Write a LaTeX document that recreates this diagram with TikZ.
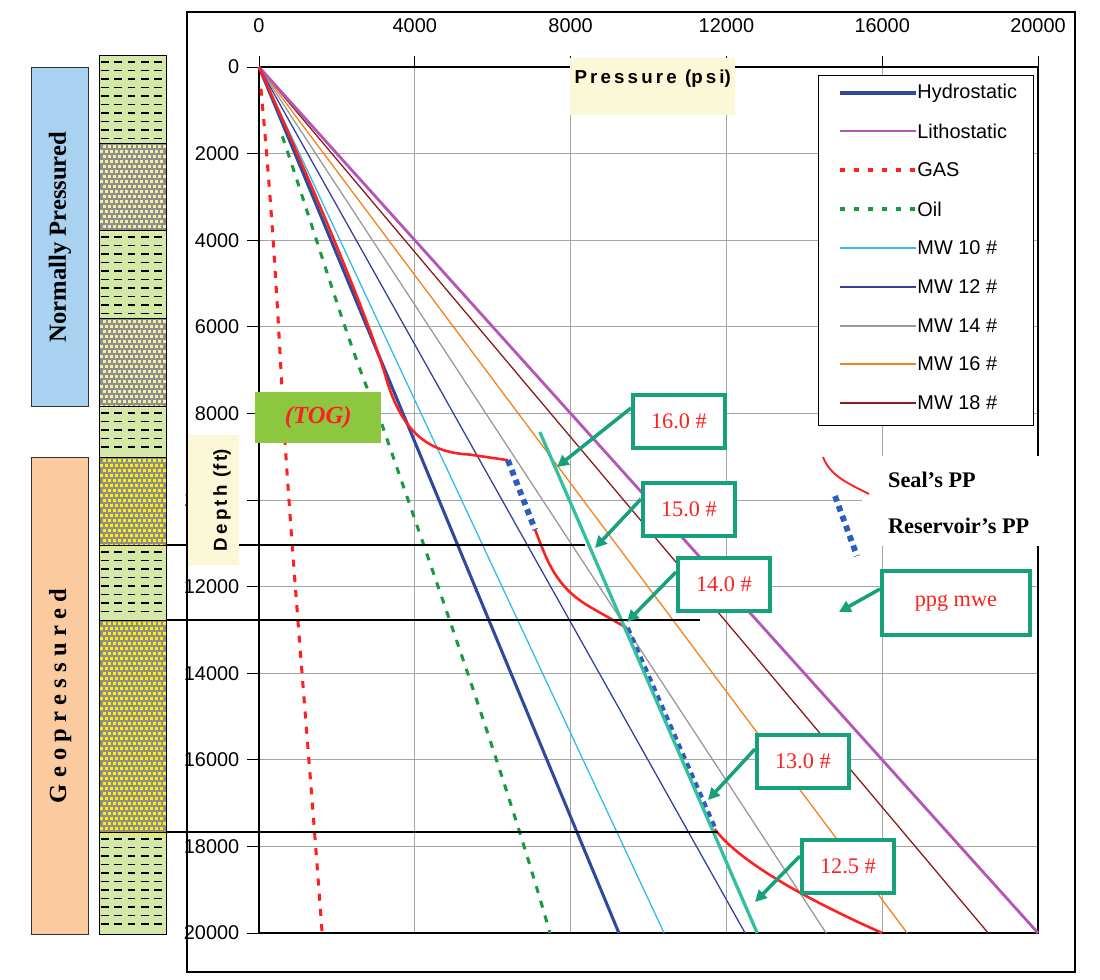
\documentclass[tikz,border=0pt]{standalone}
\usepackage{fontspec}
\setmainfont{Liberation Serif}
\setsansfont{Liberation Sans}
\usetikzlibrary{arrows.meta}
\definecolor{hydro}{HTML}{2E4A9E}
\definecolor{litho}{HTML}{B455B8}
\definecolor{gasc}{HTML}{FF2020}
\definecolor{oilc}{HTML}{1A9A40}
\definecolor{mwa}{HTML}{33BBEE}
\definecolor{mwb}{HTML}{3340A0}
\definecolor{mwc}{HTML}{999999}
\definecolor{mwd}{HTML}{F58220}
\definecolor{mwe}{HTML}{8B1A1A}
\definecolor{tealb}{HTML}{17A07C}
\definecolor{teall}{HTML}{33C0A0}
\definecolor{shale}{HTML}{D5E8A8}
\definecolor{sandg}{HTML}{8E8E8E}
\definecolor{blueb}{HTML}{A9D1F0}
\definecolor{peach}{HTML}{FBCB9F}
\definecolor{cream}{HTML}{FBF8D8}
\definecolor{togg}{HTML}{8DC63F}
\definecolor{resb}{HTML}{2E5BBF}
\definecolor{paley}{HTML}{F2F0A0}
\tikzset{
  tick/.style={font=\sffamily\fontsize{17}{19}\selectfont},
  legtxt/.style={font=\sffamily\fontsize{17}{19}\selectfont, anchor=west, inner sep=1pt},
  callout/.style={draw=tealb, line width=3.2pt, fill=white, text=gasc, font=\fontsize{19}{21}\selectfont, minimum width=92*0.3mm, minimum height=53*0.3mm, inner sep=0pt},
  callarrow/.style={tealb, line width=3pt, -{Triangle[length=10pt,width=10pt]}},
  gridl/.style={gray!70, line width=0.8pt},
  shalebox/.style={fill=shale, draw=black, line width=0.8pt},
  sandbox/.style={draw=black, line width=0.8pt},
  hydroL/.style={hydro, line width=2.6pt},
  lithoL/.style={litho, line width=2.4pt},
  gasL/.style={gasc, line width=2.6pt, dash pattern=on 4pt off 8pt},
  oilL/.style={oilc, line width=2.6pt, dash pattern=on 4pt off 8pt},
  mwaL/.style={mwa, line width=1.1pt},
  mwbL/.style={mwb, line width=1.1pt},
  mwcL/.style={mwc, line width=1.1pt},
  mwdL/.style={mwd, line width=1.1pt},
  mweL/.style={mwe, line width=1.1pt},
  resL/.style={resb, line width=5pt, dash pattern=on 5pt off 4pt},
  sealL/.style={gasc, line width=2.2pt},
}
\begin{document}
\begin{tikzpicture}[x=0.3mm,y=-0.3mm]
\useasboundingbox (0,0) rectangle (1100,980);
\fill[white] (0,0) rectangle (1100,980);
% outer chart frame
\draw[line width=1.2pt] (187,12) rectangle (1075,972);
% left columns
\node[draw=black!80, line width=1pt, fill=blueb, minimum width=57*0.3mm, minimum height=339*0.3mm, inner sep=0pt, anchor=north west] (np) at (31,67) {};
\node[rotate=90, font=\bfseries\fontsize{21}{23}\selectfont] at (np.center) {Normally Pressured};
\node[draw=black!80, line width=1pt, fill=peach, minimum width=57*0.3mm, minimum height=477*0.3mm, inner sep=0pt, anchor=north west] (gp) at (31,457) {};
\node[rotate=90, font=\bfseries\fontsize{21}{23}\selectfont] at (gp.center) {G e o p r e s s u r e d};
% lithology column
\foreach \a/\b in {55/143, 230/318, 406/457, 545/620, 832/934}{
  \draw[shalebox] (99,\a) rectangle (166,\b);
  \pgfmathsetmacro{\st}{\a+7}
  \pgfmathsetmacro{\nx}{\a+15.5}
  \foreach \yy in {\st,\nx,...,\b}{
    \pgfmathparse{\yy<\b-3?1:0}
    \ifnum\pgfmathresult=1
      \draw[black, line width=1.3pt, dash pattern=on 2.3mm off 1.7mm] (101,\yy) -- (165,\yy);
    \fi
  }
}
\foreach \a/\b/\c in {143/230/paley, 318/406/paley, 457/545/yellow, 620/832/yellow}{
  \fill[sandg] (99,\a) rectangle (166,\b);
  \pgfmathsetmacro{\st}{\a+2}
  \pgfmathsetmacro{\nx}{\a+7}
  \foreach \yy [count=\i] in {\st,\nx,...,\b}{
    \pgfmathsetmacro{\off}{mod(\i,2)*2.5}
    \foreach \xx in {100,105,...,162}{
      \fill[\c] (\xx+\off,\yy) rectangle ++(3,3);
    }
  }
  \draw[sandbox] (99,\a) rectangle (166,\b);
}
% plot
\begin{scope}[shift={(77.7mm,-20.1mm)}, x=11.685mm, y=-12.99mm]
  \foreach \d in {2,4,...,18} \draw[gridl] (0,\d) -- (20,\d);
  \foreach \p in {4,8,...,16} \draw[gridl] (\p,0) -- (\p,20);
  \draw[line width=1pt] (0,0) -- (20,0) -- (20,20) -- (0,20) -- (0,0);
  \foreach \p/\lab in {0/0,4/4000,8/8000,12/12000,16/16000,20/20000} {
    \draw[line width=0.8pt] (\p,0) -- (\p,-0.25);
    \node[tick] at (\p,-0.95) {\lab};
  }
  \foreach \d/\lab in {0/0,2/2000,4/4000,6/6000,8/8000,10/10000,12/12000,14/14000,16/16000,18/18000,20/20000} {
    \draw[line width=0.8pt] (0,\d) -- (-0.3,\d);
    \node[tick, anchor=east] at (-0.4,\d) {\lab};
  }
  % curves
  \draw[mweL] (0,0) -- (18.72,20);
  \draw[mwdL] (0,0) -- (16.64,20);
  \draw[mwcL] (0,0) -- (14.56,20);
  \draw[mwbL] (0,0) -- (12.48,20);
  \draw[mwaL] (0,0) -- (10.4,20);
  \draw[lithoL] (0,0) -- (20,20);
  \draw[hydroL] (0,0) -- (9.24,20);
  \draw[gasL, dash pattern=on 6pt off 7pt] (0.05,0.5) .. controls (0.2,2) and (0.4,4) .. (0.62,8) .. controls (0.9,12) and (1.3,16) .. (1.62,20);
  \draw[oilL, dash pattern=on 6pt off 7pt] (0.6,1.6) .. controls (1.5,4) and (2.5,7) .. (3.06,8) .. controls (4.2,11) and (6.2,16) .. (7.47,20);
  % seal and reservoir PP
  \draw[sealL] (0,0) .. controls (1.5,3) and (2.9,6) .. (3.3,7.3) .. controls (3.7,8.4) and (4.3,8.9) .. (5.4,8.95) -- (6.39,9.08);
  \draw[resL] (6.39,9.08) -- (7.09,10.69);
  \draw[sealL] (7.09,10.69) .. controls (7.4,11.4) and (7.6,12.0) .. (8.5,12.47) -- (9.45,12.96);
  \draw[resL] (9.45,12.96) -- (11.7,17.6);
  \draw[sealL] (11.7,17.6) .. controls (12.2,18.2) and (13.5,19.0) .. (16,20);
  \draw[teall, line width=2.8pt] (7.21,8.43) -- (12.79,20);
\end{scope}
% horizontal boundary lines
\draw[black, line width=1pt] (166,545) -- (585,545);
\draw[black, line width=1pt] (166,620) -- (700,620);
\draw[black, line width=1pt] (166,832) -- (718,832);
% axis title boxes
\node[fill=cream, minimum width=165*0.3mm, minimum height=57*0.3mm, inner sep=0pt, anchor=north west] (pt) at (570,58) {};
\node[font=\sffamily\bfseries\fontsize{16}{18}\selectfont, anchor=north] at (pt.north) [yshift=-7pt] {P\,r\,e\,s\,s\,u\,r\,e \,(p\,s\,i)};
\node[fill=cream, minimum width=51*0.3mm, minimum height=130*0.3mm, inner sep=0pt, anchor=north west] (dt) at (188,435) {};
\node[rotate=90, font=\sffamily\bfseries\fontsize{16}{18}\selectfont] at (222,500) {D\,e\,p\,t\,h\, (f\,t)};
% TOG
\node[fill=togg, minimum width=126*0.3mm, minimum height=51*0.3mm, inner sep=0pt, anchor=north west] (tog) at (255,392) {};
\node[text=gasc, font=\bfseries\itshape\fontsize{21}{23}\selectfont] at (tog.center) {(TOG)};
% legend
\node[draw=black, line width=1pt, fill=white, minimum width=215*0.3mm, minimum height=350*0.3mm, inner sep=0pt, anchor=north west] (leg) at (818,75) {};
\foreach \y/\sty/\txt in {
  93/hydroL/Hydrostatic,
  131/lithoL/Lithostatic,
  170/gasL/GAS,
  209/oilL/Oil,
  248/mwaL/MW 10 \#,
  287/mwbL/MW 12 \#,
  326/mwcL/MW 14 \#,
  364/mwdL/MW 16 \#,
  403/mweL/MW 18 \#}{
  \draw[\sty] (840,\y) -- (916,\y);
  \node[legtxt] at (916,\y) {\txt};
}
% seal / reservoir legend
\fill[white] (862,456) rectangle (1045,546);
\draw[sealL, line width=1.6pt] (823,457) .. controls (830,475) and (845,482) .. (869,494);
\draw[resL] (835,496) -- (857,556);
\node[font=\bfseries\fontsize{19}{21}\selectfont, anchor=west] (seal) at (884,480) {Seal's PP};
\node[font=\bfseries\fontsize{19}{21}\selectfont, anchor=west] (res) at (884,526) {Reservoir's PP};
% callouts
\node[callout, anchor=north west] (c16) at (631,393) {16.0 \#};
\node[callout, anchor=north west] (c15) at (641,481) {15.0 \#};
\node[callout, anchor=north west] (c14) at (676,556) {14.0 \#};
\node[callout, anchor=north west, minimum width=148*0.3mm, minimum height=64*0.3mm] (cp) at (880,569) {ppg mwe};
\node[callout, anchor=north west] (c13) at (755,733) {13.0 \#};
\node[callout, anchor=north west] (c12) at (800,838) {12.5 \#};
\coordinate (t16) at (557,467);
\coordinate (t15) at (595,548);
\coordinate (t14) at (627,622);
\coordinate (tp) at (839,612);
\coordinate (t13) at (708,800);
\coordinate (t12) at (755,902);
\draw[callarrow] ([yshift=-15*0.3mm]c16.north west) -- (t16);
\draw[callarrow] ([yshift=-18*0.3mm]c15.north west) -- (t15);
\draw[callarrow] ([yshift=-16*0.3mm]c14.north west) -- (t14);
\draw[callarrow] ([yshift=-20*0.3mm]cp.north west) -- (tp);
\draw[callarrow] ([yshift=-16*0.3mm]c13.north west) -- (t13);
\draw[callarrow] ([yshift=-18*0.3mm]c12.north west) -- (t12);
\end{tikzpicture}
\end{document}
